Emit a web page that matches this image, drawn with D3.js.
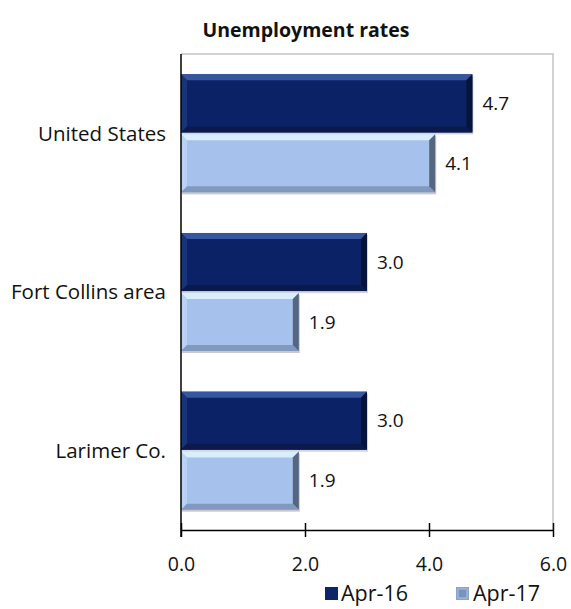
<!DOCTYPE html>
<html><head><meta charset="utf-8">
<script src="https://cdn.jsdelivr.net/npm/d3@7"></script>
<style>body{margin:0;background:#fff}svg{display:block}text{font-family:"Open Sans",sans-serif;fill:#111}</style>
</head><body><svg id="c" width="571" height="609"></svg>
<script>
const categories = ["United States", "Fort Collins area", "Larimer Co."];
const seriesNames = ["Apr-16", "Apr-17"];
const apr16 = [4.7, 3.0, 3.0];
const apr17 = [4.1, 1.9, 1.9];
const tickValues = [0, 2, 4, 6];
const title = "Unemployment rates";

const svg = d3.select("#c");
const L = 181, R = 553, T = 54, B = 530;
const x = d3.scaleLinear().domain([0, 6]).range([L, R]);
const y = d3.scaleBand().domain(categories).range([T, B]).paddingInner(0.256).paddingOuter(0.128);
const ys = d3.scaleBand().domain(seriesNames).range([0, y.bandwidth()]).paddingInner(0.03);

const styles = {
  "Apr-16": {base: "#0b2366", top: "#3656a0", left: "#1a3479", bottom: "#0a1a4c", right: "#06133a", shadow: "#d3d6de"},
  "Apr-17": {base: "#a6c2ec", top: "#d8eefd", left: "#b9d2f3", bottom: "#8198bf", right: "#56667f", shadow: "#c9c9c9"}
};

svg.append("text").attr("x", 306).attr("y", 37).attr("text-anchor", "middle")
  .style("font-weight", "bold").style("font-size", "19.5px").text(title);

// plot border
svg.append("path").attr("d", `M${L},${T}H${R}V${B}`).attr("fill", "none").attr("stroke", "#c4c4c4").attr("stroke-width", 1.5);

const data = [];
categories.forEach((c, i) => {
  data.push({cat: c, s: "Apr-16", v: apr16[i]});
  data.push({cat: c, s: "Apr-17", v: apr17[i]});
});

const g = svg.append("g");
data.forEach(d => {
  const x0 = x(0), x1 = x(d.v), y0 = y(d.cat) + ys(d.s), h = ys.bandwidth(), y1 = y0 + h;
  const st = styles[d.s];
  const b = 6;
  const bar = g.append("g");
  bar.append("rect").attr("x", x0 + 1).attr("y", y0 + 2).attr("width", x1 - x0).attr("height", h).attr("fill", st.shadow);
  bar.append("rect").attr("x", x0).attr("y", y0).attr("width", x1 - x0).attr("height", h).attr("fill", st.base);
  bar.append("polygon").attr("points", [[x0,y0],[x1,y0],[x1-b,y0+b],[x0+b,y0+b]].join(" ")).attr("fill", st.top);
  bar.append("polygon").attr("points", [[x0,y0],[x0+b,y0+b],[x0+b,y1-b],[x0,y1]].join(" ")).attr("fill", st.left);
  bar.append("polygon").attr("points", [[x0,y1],[x0+b,y1-b],[x1-b,y1-b],[x1,y1]].join(" ")).attr("fill", st.bottom);
  bar.append("polygon").attr("points", [[x1,y0],[x1,y1],[x1-b,y1-b],[x1-b,y0+b]].join(" ")).attr("fill", st.right);
  g.append("text").attr("x", x1 + 10).attr("y", y0 + h / 2).attr("dy", "0.35em")
    .style("font-size", "19px").text(d.v.toFixed(1));
});

// category labels
categories.forEach(c => {
  svg.append("text").attr("x", 166).attr("y", y(c) + y.bandwidth() / 2).attr("dy", "0.35em")
    .attr("text-anchor", "end").style("font-size", "20.5px").text(c);
});

// axes
svg.append("line").attr("x1", L).attr("x2", L).attr("y1", T).attr("y2", B + 7).attr("stroke", "#000").attr("stroke-width", 1.5);
const xa = svg.append("g").attr("transform", `translate(0,${B})`)
  .call(d3.axisBottom(x).tickValues(tickValues).tickSize(7).tickSizeOuter(0).tickFormat(d3.format(".1f")));
xa.select(".domain").attr("stroke", "#000").attr("stroke-width", 1.5);
xa.selectAll(".tick line").attr("stroke", "#000").attr("stroke-width", 1.5).attr("y1", -7);
xa.selectAll(".tick text").attr("y", 41).attr("dy", "0").style("font-size", "19.5px").style("font-family", "Open Sans").attr("fill", "#111");

// legend
const leg = svg.append("g");
const legPos = [[325, 341], [456, 473]];
seriesNames.forEach((s, i) => {
  leg.append("rect").attr("x", legPos[i][0]).attr("y", 587).attr("width", 13).attr("height", 13).attr("fill", i === 0 ? "#0c2669" : "#8aa3c8");
  if (i === 1) leg.append("rect").attr("x", legPos[i][0] + 2).attr("y", 589).attr("width", 9).attr("height", 9).attr("fill", "#7a93bb").attr("stroke", "#a9c2e6");
  leg.append("text").attr("x", legPos[i][1]).attr("y", 593).attr("dy", "0.35em").style("font-size", "21.5px").text(s);
});
</script></body></html>
